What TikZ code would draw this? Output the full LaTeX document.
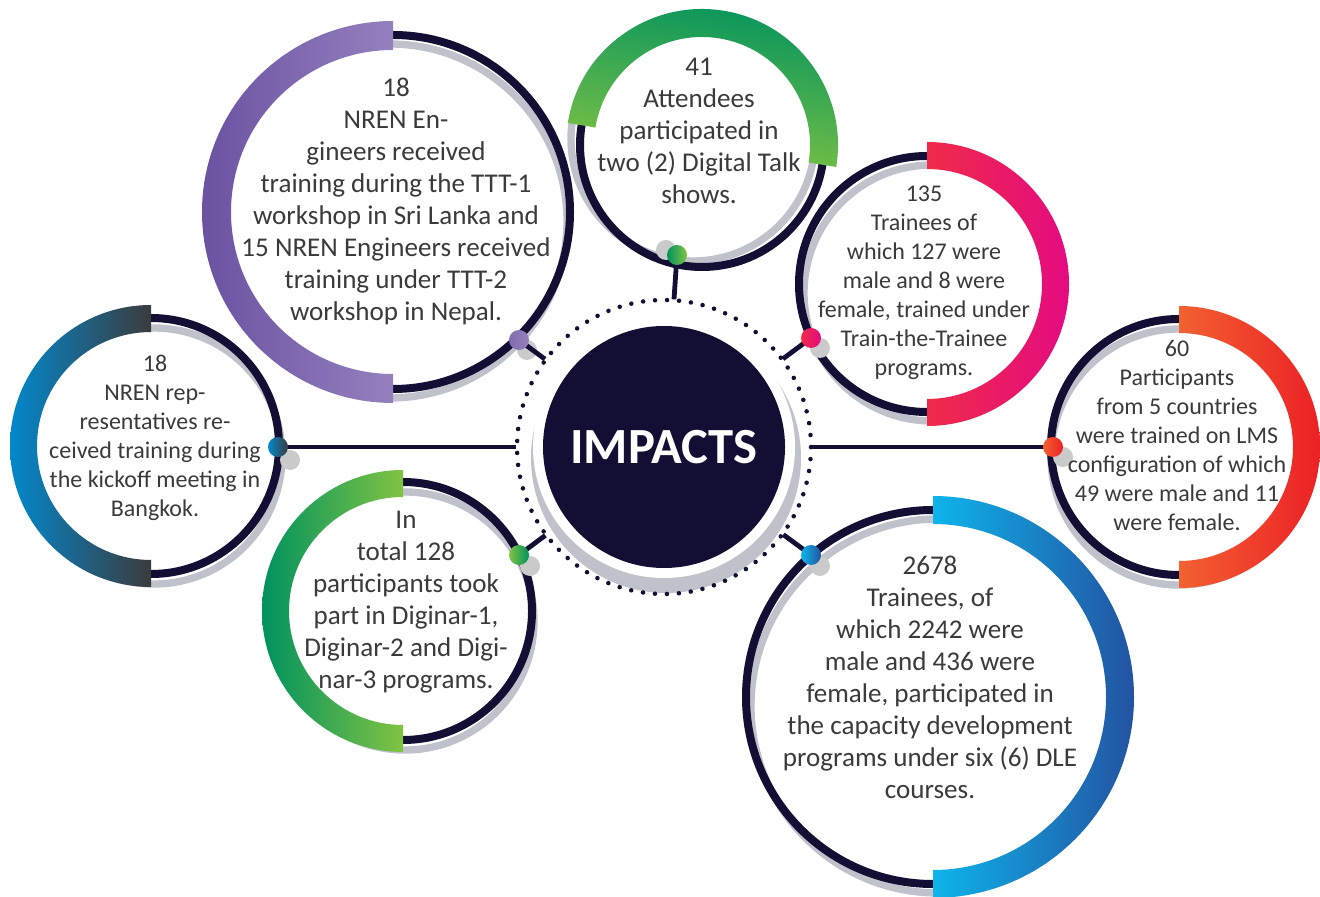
\documentclass[tikz,border=0pt]{standalone}
\usepackage{fontspec}
\setmainfont{Carlito}
\usetikzlibrary{calc}
\definecolor{navy}{HTML}{130E34}
\definecolor{shadowgray}{HTML}{BFC1CB}
\definecolor{dotgray}{HTML}{CACACA}
\definecolor{txt}{HTML}{3A3A3A}
\definecolor{purL}{HTML}{6B52A1}\definecolor{purR}{HTML}{9580BF}
\definecolor{teaL}{HTML}{0288CC}\definecolor{teaR}{HTML}{3B3B3D}
\definecolor{grnD}{HTML}{00925F}\definecolor{grnL}{HTML}{80C342}
\definecolor{pnkL}{HTML}{EF2B4A}\definecolor{pnkR}{HTML}{E40B80}
\definecolor{orgL}{HTML}{F26131}\definecolor{orgR}{HTML}{EC2025}
\definecolor{bluL}{HTML}{0EB4EA}\definecolor{bluR}{HTML}{2353A2}
\tikzset{
  navyring/.style={draw=navy, line width=6pt},
  grayring/.style={draw=shadowgray, line width=5.5pt},
  conn/.style={draw=navy, line width=3.6pt},
  dotnode/.style={circle, minimum size=15pt, inner sep=0pt, draw=none},
  bigtext/.style={font=\fontsize{20.3}{24}\selectfont, text=txt, align=center, inner sep=0pt},
  smalltext/.style={font=\fontsize{18}{21.75}\selectfont, text=txt, align=center, inner sep=0pt},
}
\newcommand{\bandshade}[6]{\shade[#6] ($(#1)+(#2:#5)$) arc[start angle=#2, end angle=#3, radius=#5] -- ($(#1)+(#3:#4)$) arc[start angle=#3, end angle=#2, radius=#4] -- cycle;}
\newcommand{\ringpair}[4]{\draw[grayring] ($(#1)+(#3,#4)$) circle[radius=#2];
  \draw[navyring] (#1) circle[radius=#2];}
\begin{document}
\begin{tikzpicture}[x=0.75pt,y=0.75pt]
\useasboundingbox (0,0) rectangle (1320,896);
\coordinate (C) at (664,449);
% centre
\fill[shadowgray] (666,438) circle[radius=135];
\fill[white] (C) circle[radius=131];
\node[circle, fill=navy, minimum size=181.5pt, inner sep=0pt, text=white,
      font=\bfseries\fontsize{38}{40}\selectfont] (hub) at (C) {IMPACTS};
\draw[navy, line width=3.4pt, line cap=round, dash pattern=on 0pt off 8.9964pt] (C) circle[radius=147];

% purple (upper left)
\coordinate (P1) at (393,684);
\ringpair{P1}{177}{-3}{-9}
\bandshade{P1}{90}{270}{162}{191}{left color=purL, right color=purR}
% teal (left)
\coordinate (P2) at (151,450);
\ringpair{P2}{128}{3}{-10}
\bandshade{P2}{90}{270}{114}{141}{left color=teaL, right color=teaR}
% green (top)
\coordinate (P3) at (702,751);
\ringpair{P3}{122}{-9}{6}
\bandshade{P3}{-9.3}{170.7}{108}{136}{top color=grnD, bottom color=grnL, shading angle=-9.3}
% pink (upper right)
\coordinate (P4) at (927,612);
\ringpair{P4}{128}{5}{-9}
\bandshade{P4}{-90}{90}{115}{142}{left color=pnkL, right color=pnkR}
% orange (right)
\coordinate (P5) at (1179,449);
\ringpair{P5}{128}{0}{-10}
\bandshade{P5}{-90}{90}{114}{141}{left color=orgL, right color=orgR}
% blue (lower right)
\coordinate (P6) at (933,199);
\ringpair{P6}{187}{5}{-9}
\bandshade{P6}{-90}{90}{173}{201}{left color=bluL, right color=bluR}
% green (lower left)
\coordinate (P7) at (403,285);
\ringpair{P7}{129}{2}{-10}
\bandshade{P7}{90}{270}{114}{141}{left color=grnD, right color=grnL}

% shadow dots
\fill[dotgray] (527,546) circle[radius=10];
\fill[dotgray] (290,436) circle[radius=10];
\fill[dotgray] (666,646) circle[radius=10];
\fill[dotgray] (820,548) circle[radius=10];
\fill[dotgray] (1063,439) circle[radius=10];
\fill[dotgray] (820,330) circle[radius=10];
\fill[dotgray] (530,330) circle[radius=10];

% dot anchors
\coordinate (d1) at (519,556);
\coordinate (d2) at (278,449);
\coordinate (d3) at (677,641);
\coordinate (d4) at (811,558);
\coordinate (d5) at (1053,449);
\coordinate (d6) at (811,341);
\coordinate (d7) at (519,341);

% connectors
\foreach \d in {d1,d2,d3,d4,d5,d6,d7}{
  \draw[conn] (\d) -- ($(C)!111pt!(\d)$);
}
% coloured dots on top
\node[dotnode, left color=purL!85!white, right color=purR] (n1) at (d1) {};
\node[dotnode, left color=teaL, right color=teaR] (n2) at (d2) {};
\node[dotnode, left color=grnD, right color=grnL] (n3) at (d3) {};
\node[dotnode, left color=pnkL, right color=pnkR] (n4) at (d4) {};
\node[dotnode, left color=orgL, right color=orgR] (n5) at (d5) {};
\node[dotnode, left color=bluL, right color=bluR] (n6) at (d6) {};
\node[dotnode, left color=grnL, right color=grnD] (n7) at (d7) {};

% texts
\node[bigtext] (t1) at (396,695) {18\\NREN En-\\gineers received\\training during the TTT-1\\workshop in Sri Lanka and\\15 NREN Engineers received\\training under TTT-2\\workshop in Nepal.};
\node[smalltext] (t2) at (155,458) {18\\NREN rep-\\resentatives re-\\ceived training during\\the kickoff meeting in\\Bangkok.};
\node[bigtext] (t3) at (699,765) {41\\Attendees\\participated in\\two (2) Digital Talk\\shows.};
\node[smalltext] (t4) at (924,613) {135\\Trainees of\\which 127 were\\male and 8 were\\female, trained under\\Train-the-Trainee\\programs.};
\node[smalltext] (t5) at (1177,461) {60\\Participants\\from 5 countries\\were trained on LMS\\configuration of which\\49 were male and 11\\were female.};
\node[bigtext] (t6) at (930,218.5) {2678\\Trainees, of\\which 2242 were\\male and 436 were\\female, participated in\\the capacity development\\programs under six (6) DLE\\courses.};
\node[bigtext] (t7) at (406,294) {In\\total 128\\participants took\\part in Diginar-1,\\Diginar-2 and Digi-\\nar-3 programs.};
\end{tikzpicture}
\end{document}
